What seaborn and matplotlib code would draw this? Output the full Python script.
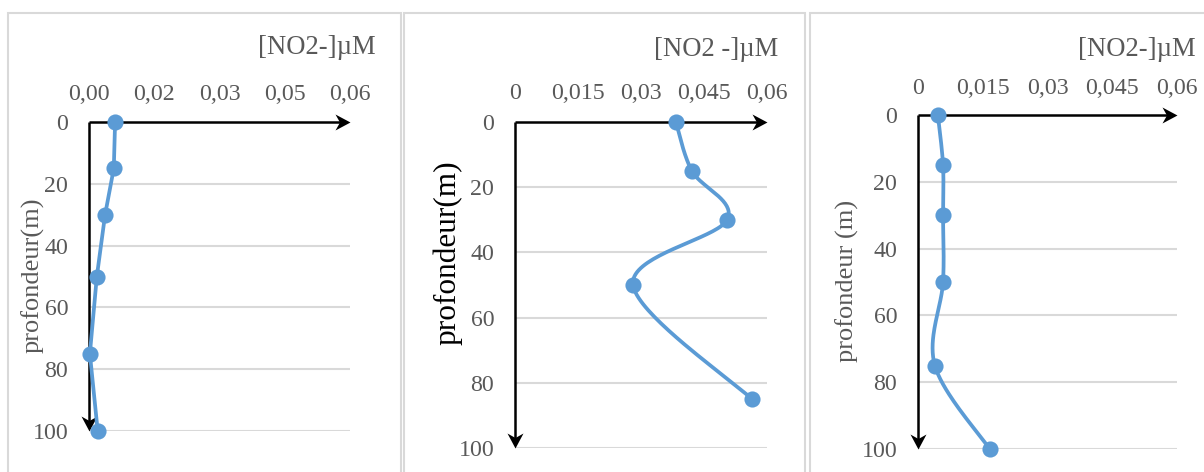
import numpy as np
import matplotlib
matplotlib.use("Agg")
import matplotlib.pyplot as plt
import seaborn as sns
from matplotlib.patches import Rectangle
from matplotlib.path import Path

# ---------------- data ----------------
depth_1 = [0, 15, 30, 50, 75, 100]
no2_1 = [0.0060, 0.0057, 0.0037, 0.0018, 0.0002, 0.0020]

depth_2 = [0, 15, 30, 50, 85]
no2_2 = [0.0383, 0.0421, 0.0505, 0.0281, 0.0564]

depth_3 = [0, 15, 30, 50, 75, 100]
no2_3 = [0.0046, 0.0058, 0.0058, 0.0058, 0.0039, 0.0166]

x_ticks = [0, 0.015, 0.03, 0.045, 0.06]
x_ticklabels_1 = ["0,00", "0,02", "0,03", "0,05", "0,06"]
x_ticklabels_23 = ["0", "0,015", "0,03", "0,045", "0,06"]
y_ticks = [0, 20, 40, 60, 80, 100]
y_ticklabels = ["0", "20", "40", "60", "80", "100"]
titles = ["[NO2-]µM", "[NO2 -]µM", "[NO2-]µM"]
ylabels = ["profondeur(m)", "profondeur(m)", "profondeur (m)"]

# ---------------- style ----------------
sns.set_theme(style="white")
plt.rcParams["font.family"] = ["Liberation Serif", "DejaVu Serif"]

W, H = 1204, 472
fig = plt.figure(figsize=(W / 100, H / 100), dpi=100)
fig.patch.set_facecolor("white")

GRAY = "#595959"
GRID = "#d9d9d9"
BLUE = "#5B9BD5"


def fx(px):
    return px / W


def fy(py):
    return 1 - py / H


# stealth arrow-head markers (tip at origin, display orientation)
_right = [(0, 0), (-15, 8), (-10.5, 0), (-15, -8), (0, 0)]
_codes = [Path.MOVETO, Path.LINETO, Path.LINETO, Path.LINETO, Path.CLOSEPOLY]
HEAD_RIGHT = Path(_right, _codes)
HEAD_DOWN = Path([(y, -x) for (x, y) in _right], _codes)
HEAD_SIZE = 30 * 0.72

# panel frames (light grey chart borders)
for (l, t, r, b) in [(8, 13, 401, 490), (404, 13, 805, 490), (810, 13, 1220, 490)]:
    fig.add_artist(Rectangle((fx(l), fy(b)), fx(r) - fx(l), (b - t) / H,
                             transform=fig.transFigure, fill=False,
                             ec=GRID, lw=1.5, zorder=0))


def smooth_curve(ax, xs, ys, n=40):
    pts = ax.transData.transform(np.column_stack([xs, ys]))
    P = np.vstack([pts[0], pts, pts[-1]])
    out = []
    t = np.linspace(0, 1, n)[:, None]
    for i in range(1, len(P) - 2):
        p0, p1, p2, p3 = P[i - 1], P[i], P[i + 1], P[i + 2]
        b1 = p1 + (p2 - p0) / 6
        b2 = p2 - (p3 - p1) / 6
        seg = (1 - t) ** 3 * p1 + 3 * (1 - t) ** 2 * t * b1 + 3 * (1 - t) * t ** 2 * b2 + t ** 3 * p2
        out.append(seg if i == 1 else seg[1:])
    out = np.vstack(out)
    d = ax.transData.inverted().transform(out)
    return d[:, 0], d[:, 1]


panels = [
    dict(x0=89, x1=350, y0=122, y1=431, xs=no2_1, ys=depth_1, xl=x_ticklabels_1,
         smooth=False, title=titles[0], tpos=(376, 47), ylabel=ylabels[0],
         ypos=(33, 275), ysize=19, ycol=GRAY, xpad=12.3),
    dict(x0=515, x1=767, y0=122, y1=448, xs=no2_2, ys=depth_2, xl=x_ticklabels_23,
         smooth=True, title=titles[1], tpos=(778, 49), ylabel=ylabels[1],
         ypos=(448, 253), ysize=22.5, ycol="black", xpad=13.2),
    dict(x0=918, x1=1177, y0=115, y1=449, xs=no2_3, ys=depth_3, xl=x_ticklabels_23,
         smooth=True, title=titles[2], tpos=(1196, 50), ylabel=ylabels[2],
         ypos=(847, 281), ysize=19, ycol=GRAY, xpad=11.2),
]

for p in panels:
    ax = fig.add_axes([fx(p["x0"]), fy(p["y1"]), fx(p["x1"]) - fx(p["x0"]),
                       (p["y1"] - p["y0"]) / H])
    ax.set_facecolor("none")
    ax.set_xlim(0, 0.06)
    ax.set_ylim(100, 0)
    for s in ax.spines.values():
        s.set_visible(False)
    ax.xaxis.tick_top()
    ax.set_xticks(x_ticks)
    ax.set_xticklabels(p["xl"])
    ax.set_yticks(y_ticks)
    ax.set_yticklabels(y_ticklabels)
    ax.tick_params(axis="x", length=0, pad=p["xpad"], labelsize=17.2, labelcolor=GRAY)
    ax.tick_params(axis="y", length=0, pad=15, labelsize=17.2, labelcolor=GRAY)
    ax.grid(False)
    for yv in y_ticks[1:]:
        ax.axhline(yv, color=GRID, lw=1.5, zorder=1)

    # axes lines with stealth arrow heads
    ax.plot([0, 0.058], [0, 0], color="black", lw=1.8, zorder=3, clip_on=False,
            solid_capstyle="butt")
    ax.plot([0, 0], [0, 97], color="black", lw=1.8, zorder=3, clip_on=False,
            solid_capstyle="butt")
    ax.plot([0.06], [0], marker=HEAD_RIGHT, markersize=HEAD_SIZE, color="black",
            markeredgewidth=0, zorder=3, clip_on=False)
    ax.plot([0], [100], marker=HEAD_DOWN, markersize=HEAD_SIZE, color="black",
            markeredgewidth=0, zorder=3, clip_on=False)

    if p["smooth"]:
        cx, cy = smooth_curve(ax, p["xs"], p["ys"])
        ax.plot(cx, cy, color=BLUE, lw=2.7, zorder=4, clip_on=False,
                solid_capstyle="round")
    else:
        sns.lineplot(x=p["xs"], y=p["ys"], ax=ax, sort=False, estimator=None,
                     color=BLUE, lw=2.7, zorder=4, clip_on=False)
    sns.scatterplot(x=p["xs"], y=p["ys"], ax=ax, color=BLUE, s=135,
                    edgecolor=BLUE, linewidth=0, zorder=5, clip_on=False)
    ax.set_xlabel("")
    ax.set_ylabel("")

    fig.text(fx(p["tpos"][0]), fy(p["tpos"][1]), p["title"], ha="right",
             va="center", fontsize=19.2, color=GRAY)
    fig.text(fx(p["ypos"][0]), fy(p["ypos"][1]), p["ylabel"], ha="center",
             va="center", rotation=90, fontsize=p["ysize"], color=p["ycol"])

fig.savefig("out.png", dpi=100, facecolor="white")
